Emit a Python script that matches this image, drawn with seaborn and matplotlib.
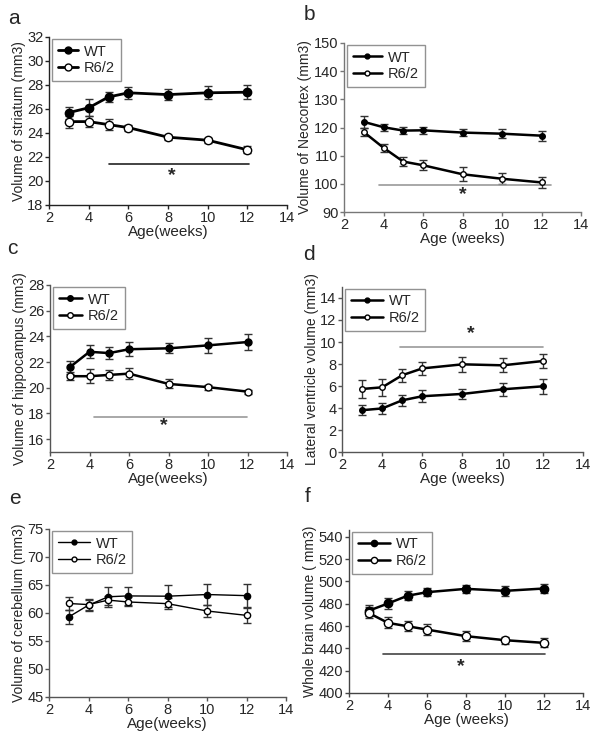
import numpy as np
import pandas as pd
import matplotlib
matplotlib.use('Agg')
import matplotlib.pyplot as plt
import seaborn as sns

# ages (weeks) shared by every panel
ages = [3, 4, 5, 6, 8, 10, 12]

# a: striatum
striatum_wt = [25.7, 26.1, 27.0, 27.35, 27.2, 27.35, 27.4]
striatum_wt_err = [0.5, 0.7, 0.45, 0.5, 0.45, 0.55, 0.6]
striatum_r6 = [24.95, 24.95, 24.7, 24.45, 23.65, 23.4, 22.6]
striatum_r6_err = [0.5, 0.45, 0.45, 0.25, 0.2, 0.2, 0.3]

# b: neocortex
neocortex_wt = [122.0, 120.1, 118.9, 119.0, 118.2, 117.8, 117.1]
neocortex_wt_err = [2.0, 1.2, 1.2, 1.2, 1.2, 1.5, 1.8]
neocortex_r6 = [118.4, 112.8, 107.9, 106.6, 103.4, 101.8, 100.5]
neocortex_r6_err = [1.5, 1.5, 1.5, 1.8, 2.5, 2.0, 2.0]

# c: hippocampus
hippo_wt = [21.6, 22.8, 22.7, 23.0, 23.07, 23.3, 23.56]
hippo_wt_err = [0.5, 0.5, 0.45, 0.55, 0.4, 0.6, 0.6]
hippo_r6 = [20.9, 20.9, 21.0, 21.1, 20.3, 20.05, 19.7]
hippo_r6_err = [0.3, 0.55, 0.4, 0.45, 0.35, 0.2, 0.15]

# d: lateral ventricle
ventricle_wt = [3.8, 3.96, 4.7, 5.07, 5.28, 5.7, 5.97]
ventricle_wt_err = [0.45, 0.5, 0.5, 0.55, 0.45, 0.6, 0.7]
ventricle_r6 = [5.73, 5.88, 6.98, 7.6, 7.97, 7.88, 8.27]
ventricle_r6_err = [0.8, 0.75, 0.6, 0.6, 0.7, 0.65, 0.65]

# e: cerebellum
cereb_wt = [59.3, 61.4, 62.9, 63.05, 63.0, 63.3, 63.1]
cereb_wt_err = [1.3, 1.0, 1.8, 1.6, 2.0, 1.8, 2.0]
cereb_r6 = [61.7, 61.5, 62.3, 61.97, 61.67, 60.36, 59.58]
cereb_r6_err = [1.2, 1.0, 0.8, 0.8, 1.0, 1.1, 1.3]

# f: whole brain
brain_wt = [473.6, 480.2, 487.1, 490.3, 493.3, 491.5, 493.6]
brain_wt_err = [5.0, 5.0, 4.0, 3.5, 3.5, 4.5, 4.0]
brain_r6 = [471.8, 462.8, 459.8, 456.8, 450.9, 447.3, 444.9]
brain_r6_err = [5.0, 5.0, 4.5, 5.0, 4.5, 3.0, 4.0]

sns.set_style('ticks')
plt.rcParams['font.family'] = ['Liberation Sans', 'DejaVu Sans']

W, H = 602, 738
fig = plt.figure(figsize=(W / 100, H / 100), dpi=100)


def add_ax(left, right, top, bottom):
    return fig.add_axes([left / W, 1 - bottom / H, (right - left) / W, (bottom - top) / H])


panels = [
    dict(letter='a', lpos=(8, 18), box=(49, 287, 37, 205), ylim=(18, 32), yticks=range(18, 33, 2),
         ylabel='Volume of striatum (mm3)', xlabel='Age(weeks)',
         wt=striatum_wt, wte=striatum_wt_err, r6=striatum_r6, r6e=striatum_r6_err,
         lw=2.0, ms=6.0, lms=5.0, hl=1.4, sig=(5.03, 12.06, 21.4, 8.2, 20.45), sigc='#222', spc='#222'),
    dict(letter='b', lpos=(304, 14), box=(344, 581, 43, 212), ylim=(90, 150), yticks=range(90, 151, 10),
         ylabel='Volume of Neocortex (mm3)', xlabel='Age (weeks)',
         wt=neocortex_wt, wte=neocortex_wt_err, r6=neocortex_r6, r6e=neocortex_r6_err,
         lw=1.8, ms=4.0, lms=3.5, hl=2.0, sig=(3.77, 12.46, 99.5, 8.0, 96.1), sigc='#999', spc='#777'),
    dict(letter='c', lpos=(7, 248), box=(50, 287, 285, 452), ylim=(15, 28), yticks=range(16, 29, 2),
         ylabel='Volume of hippocampus (mm3)', xlabel='Age(weeks)',
         wt=hippo_wt, wte=hippo_wt_err, r6=hippo_r6, r6e=hippo_r6_err,
         lw=1.8, ms=5.0, lms=4.0, hl=1.6, sig=(4.25, 11.97, 17.74, 7.75, 17.05), sigc='#999', spc='#555'),
    dict(letter='d', lpos=(303, 254), box=(342, 583, 287, 452), ylim=(0, 15), yticks=range(0, 15, 2),
         ylabel='Lateral ventricle volume (mm3)', xlabel='Age (weeks)',
         wt=ventricle_wt, wte=ventricle_wt_err, r6=ventricle_r6, r6e=ventricle_r6_err,
         lw=1.8, ms=4.0, lms=3.5, hl=2.2, sig=(4.9, 11.99, 9.56, 8.39, 10.75), sigc='#999', spc='#555'),
    dict(letter='e', lpos=(9, 498), box=(49, 286, 529, 697), ylim=(45, 75), yticks=range(45, 76, 5),
         ylabel='Volume of cerebellum (mm3)', xlabel='Age(weeks)',
         wt=cereb_wt, wte=cereb_wt_err, r6=cereb_r6, r6e=cereb_r6_err,
         lw=1.0, ms=4.5, lms=3.5, hl=2.2, sig=None, sigc='#999', spc='#555'),
    dict(letter='f', lpos=(305, 497), box=(349, 583, 530, 693), ylim=(400, 546), yticks=range(400, 541, 20),
         ylabel='Whole brain volume ( mm3)', xlabel='Age (weeks)',
         wt=brain_wt, wte=brain_wt_err, r6=brain_r6, r6e=brain_r6_err,
         lw=1.8, ms=6.0, lms=4.5, hl=2.2, sig=(3.74, 12.07, 435.3, 7.73, 423.5), sigc='#444', spc='#444'),
]

for p in panels:
    left, right, top, bottom = p['box']
    ax = add_ax(left, right, top, bottom)
    df = pd.DataFrame({
        'Age': ages * 2,
        'Volume': p['wt'] + p['r6'],
        'Group': ['WT'] * len(ages) + ['R6/2'] * len(ages),
    })
    for grp, vals, errs, face in [('WT', p['wt'], p['wte'], 'black'),
                                  ('R6/2', p['r6'], p['r6e'], 'white')]:
        ax.errorbar(ages, vals, yerr=errs, fmt='none', ecolor='#333', elinewidth=1,
                    capsize=3, capthick=1, zorder=2)
        sns.lineplot(data=df[df['Group'] == grp], x='Age', y='Volume', ax=ax,
                     color='black', lw=p['lw'], marker='o', markersize=p['ms'],
                     markerfacecolor=face, markeredgecolor='black', markeredgewidth=1,
                     label=grp, zorder=3)
    if p['sig'] is not None:
        x0, x1, y, sx, sy = p['sig']
        ax.plot([x0, x1], [y, y], color=p['sigc'], lw=1.2)
        ax.text(sx, sy, '*', ha='center', va='center', fontsize=14, fontweight='bold')

    ax.set_xlim(2, 14)
    ax.set_xticks(range(2, 15, 2))
    ax.set_ylim(*p['ylim'])
    ax.set_yticks(list(p['yticks']))
    ax.tick_params(direction='out', length=3, width=1, labelsize=10.5, pad=1,
                   color=p['spc'])
    for s in ['left', 'bottom']:
        ax.spines[s].set_color(p['spc'])
        ax.spines[s].set_linewidth(1)
    sns.despine(ax=ax)
    ax.set_xlabel(p['xlabel'], fontsize=11, labelpad=0)
    ax.set_ylabel(p['ylabel'], fontsize=10, labelpad=1)
    leg = ax.legend(loc='upper left', bbox_to_anchor=(0.012, 0.99), frameon=True,
                    fancybox=False, edgecolor='#777', fontsize=10.5, handlelength=p['hl'],
                    handletextpad=0.4, borderpad=0.4, labelspacing=0.2, borderaxespad=0)
    leg.get_frame().set_linewidth(1)
    for h in leg.get_lines():
        h.set_markersize(p['lms'])
    fig.text(p['lpos'][0] / W, 1 - p['lpos'][1] / H, p['letter'], fontsize=15,
             ha='left', va='center')

fig.savefig('out.png', dpi=100)
